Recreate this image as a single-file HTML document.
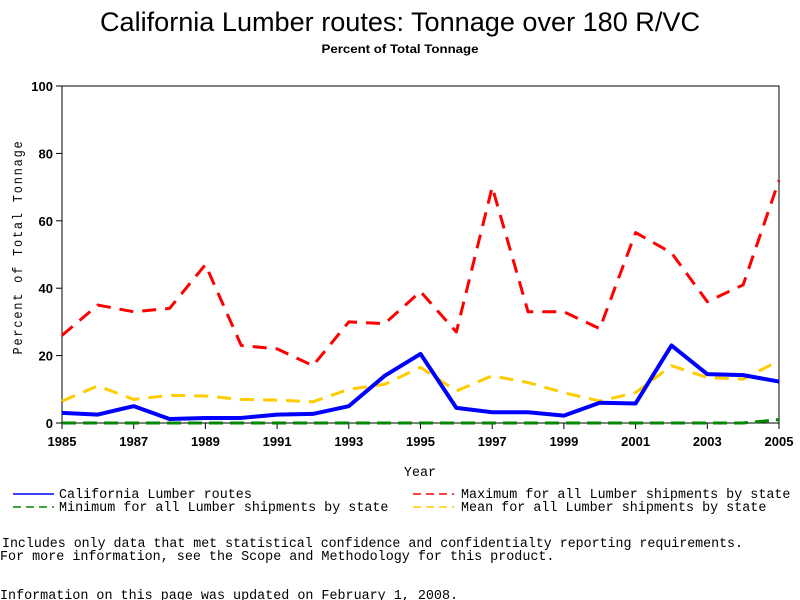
<!DOCTYPE html>
<html><head><meta charset="utf-8"><style>
body{margin:0;background:#fff;width:800px;height:600px;overflow:hidden}
svg{display:block}
text{font-family:"Liberation Sans",sans-serif}
.m{font-family:"Liberation Mono",monospace;font-size:13.4px}
</style></head><body>
<svg id="chart" width="800" height="600">
<text x="400" y="31" text-anchor="middle" font-size="27" textLength="600" lengthAdjust="spacingAndGlyphs">California Lumber routes: Tonnage over 180 R/VC</text>
<text x="400" y="53" text-anchor="middle" font-size="12" font-weight="bold" textLength="157" lengthAdjust="spacingAndGlyphs">Percent of Total Tonnage</text>
<g id="plot"></g>
<text x="420" y="476" text-anchor="middle" class="m">Year</text>
<text transform="translate(22,247) rotate(-90)" text-anchor="middle" class="m" font-size="12" letter-spacing="2" textLength="215" lengthAdjust="spacingAndGlyphs">Percent of Total Tonnage</text>
<g>
<line x1="13" y1="494" x2="54" y2="494" stroke="#00f" stroke-width="1.5"/>
<text x="59" y="498" class="m">California Lumber routes</text>
<line x1="13" y1="507" x2="54" y2="507" stroke="#080" stroke-width="1.5" stroke-dasharray="8,5"/>
<text x="59" y="511" class="m">Minimum for all Lumber shipments by state</text>
<line x1="413" y1="494" x2="454" y2="494" stroke="#f00" stroke-width="1.5" stroke-dasharray="8,5"/>
<text x="461" y="498" class="m">Maximum for all Lumber shipments by state</text>
<line x1="413" y1="507" x2="454" y2="507" stroke="#fc0" stroke-width="1.5" stroke-dasharray="8,5"/>
<text x="461" y="511" class="m">Mean for all Lumber shipments by state</text>
</g>
<text x="2" y="547" class="m" textLength="741" lengthAdjust="spacingAndGlyphs">Includes only data that met statistical confidence and confidentialty reporting requirements.</text>
<text x="0" y="560" class="m">For more information, see the Scope and Methodology for this product.</text>
<text x="0" y="599" class="m">Information on this page was updated on February 1, 2008.</text>
</svg>
<script>
const years=[1985,1986,1987,1988,1989,1990,1991,1992,1993,1994,1995,1996,1997,1998,1999,2000,2001,2002,2003,2004,2005];
const california=[3,2.5,5,1.2,1.5,1.5,2.5,2.7,5,14,20.5,4.5,3.2,3.2,2.2,6,5.8,23,14.5,14.2,12.3];
const maximum=[26,35,33,34,47,23,22,17,30,29.5,39,27,70,33,33,28,56.5,50.5,36,41,72];
const mean=[6.5,11,7,8.2,8,7,6.8,6.3,10,11.5,16.5,9.5,14,12,9,6.5,9,17,13.5,13,18.5];
const minimum=[0,0,0,0,0,0,0,0,0,0,0,0,0,0,0,0,0,0,0,0,1];
const yTicks=[0,20,40,60,80,100];
const xTickLabels=[1985,1987,1989,1991,1993,1995,1997,1999,2001,2003,2005];
const X0=62,X1=779,Y0=423,Y1=86;
function xs(v){return X0+(v-1985)/(2005-1985)*(X1-X0);}
function ys(v){return Y0-v/100*(Y0-Y1);}
const NS="http://www.w3.org/2000/svg";
const g=document.getElementById('plot');
function mk(t,a){const e=document.createElementNS(NS,t);for(const k in a)e.setAttribute(k,a[k]);g.appendChild(e);return e;}
let e=mk('rect',{x:X0,y:Y1,width:X1-X0,height:Y0-Y1,fill:'none',stroke:'#000','stroke-width':1});


yTicks.forEach(v=>{
  let t=mk('line',{x1:X0-6,x2:X0,y1:ys(v),y2:ys(v),stroke:'#000'});
  
  
  let l=mk('text',{x:X0-9,y:ys(v)+5,'text-anchor':'end','font-size':13,'font-weight':'bold'});
  l.textContent=v;
  
  
});
xTickLabels.forEach(v=>{
  let t=mk('line',{x1:xs(v),x2:xs(v),y1:Y0,y2:Y0+6,stroke:'#000'});
  
  
  let l=mk('text',{x:xs(v),y:Y0+23,'text-anchor':'middle','font-size':13,'font-weight':'bold'});
  l.textContent=v;
  
  
});
function line(vals,color,w,dash,name){
  const p=mk('polyline',{points:vals.map((v,i)=>xs(years[i])+','+ys(v)).join(' '),fill:'none',stroke:color,'stroke-width':w,'stroke-linejoin':'round'});
  if(dash)p.setAttribute('stroke-dasharray',dash);
  
  
}
line(minimum,'#080',3,'14,7','series-minimum');
line(mean,'#fc0',3,'14,9','series-mean');
line(maximum,'#f00',3,'14,9','series-maximum');
line(california,'#00f',4,null,'series-california');
</script>
</body></html>
